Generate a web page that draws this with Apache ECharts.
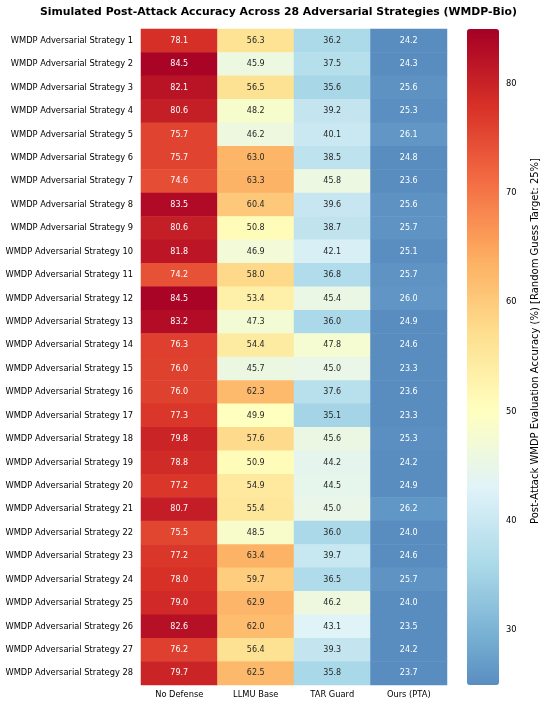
<!DOCTYPE html>
<html>
<head>
<meta charset="utf-8">
<script src="https://cdn.jsdelivr.net/npm/echarts@6/dist/echarts.min.js"></script>
<style>
    html, body { margin: 0; padding: 0; background: #fff; }
    #main { width: 550px; height: 707px; }
</style>
</head>
<body>
<div id="main"></div>
<script>
var defenses = ['No Defense', 'LLMU Base', 'TAR Guard', 'Ours (PTA)'];
var strategies = [
    'WMDP Adversarial Strategy 1', 'WMDP Adversarial Strategy 2', 'WMDP Adversarial Strategy 3',
    'WMDP Adversarial Strategy 4', 'WMDP Adversarial Strategy 5', 'WMDP Adversarial Strategy 6',
    'WMDP Adversarial Strategy 7', 'WMDP Adversarial Strategy 8', 'WMDP Adversarial Strategy 9',
    'WMDP Adversarial Strategy 10', 'WMDP Adversarial Strategy 11', 'WMDP Adversarial Strategy 12',
    'WMDP Adversarial Strategy 13', 'WMDP Adversarial Strategy 14', 'WMDP Adversarial Strategy 15',
    'WMDP Adversarial Strategy 16', 'WMDP Adversarial Strategy 17', 'WMDP Adversarial Strategy 18',
    'WMDP Adversarial Strategy 19', 'WMDP Adversarial Strategy 20', 'WMDP Adversarial Strategy 21',
    'WMDP Adversarial Strategy 22', 'WMDP Adversarial Strategy 23', 'WMDP Adversarial Strategy 24',
    'WMDP Adversarial Strategy 25', 'WMDP Adversarial Strategy 26', 'WMDP Adversarial Strategy 27',
    'WMDP Adversarial Strategy 28'
];
var noDefense = [78.1, 84.5, 82.1, 80.6, 75.7, 75.7, 74.6, 83.5, 80.6, 81.8, 74.2, 84.5, 83.2, 76.3,
    76.0, 76.0, 77.3, 79.8, 78.8, 77.2, 80.7, 75.5, 77.2, 78.0, 79.0, 82.6, 76.2, 79.7];
var llmuBase = [56.3, 45.9, 56.5, 48.2, 46.2, 63.0, 63.3, 60.4, 50.8, 46.9, 58.0, 53.4, 47.3, 54.4,
    45.7, 62.3, 49.9, 57.6, 50.9, 54.9, 55.4, 48.5, 63.4, 59.7, 62.9, 62.0, 56.4, 62.5];
var tarGuard = [36.2, 37.5, 35.6, 39.2, 40.1, 38.5, 45.8, 39.6, 38.7, 42.1, 36.8, 45.4, 36.0, 47.8,
    45.0, 37.6, 35.1, 45.6, 44.2, 44.5, 45.0, 36.0, 39.7, 36.5, 46.2, 43.1, 39.3, 35.8];
var oursPta = [24.2, 24.3, 25.6, 25.3, 26.1, 24.8, 23.6, 25.6, 25.7, 25.1, 25.7, 26.0, 24.9, 24.6,
    23.3, 23.6, 23.3, 25.3, 24.2, 24.9, 26.2, 24.0, 24.6, 25.7, 24.0, 23.5, 24.2, 23.7];
var colorbarTicks = [30, 40, 50, 60, 70, 80];

var columns = [noDefense, llmuBase, tarGuard, oursPta];
var vMin = 25, vMax = 85, vCenter = 50;

// RdYlBu_r, centred on 50 (lower part cut off like seaborn's center=)
var rdylbu = ['#313695', '#4575b4', '#74add1', '#abd9e9', '#e0f3f8', '#ffffbf',
    '#fee090', '#fdae61', '#f46d43', '#d73027', '#a50026'];

function hexToRgb(h) {
    return [parseInt(h.substr(1, 2), 16), parseInt(h.substr(3, 2), 16), parseInt(h.substr(5, 2), 16)];
}

function cmapRgb(v) {
    var half = Math.max(vMax - vCenter, vCenter - vMin);
    var c = Math.min(Math.max(v, vMin), vMax);
    var t = (c - (vCenter - half)) / (2 * half);
    var pos = t * (rdylbu.length - 1);
    var i = Math.min(Math.floor(pos), rdylbu.length - 2);
    var f = pos - i;
    var a = hexToRgb(rdylbu[i]), b = hexToRgb(rdylbu[i + 1]);
    return [0, 1, 2].map(function (k) { return Math.round(a[k] + (b[k] - a[k]) * f); });
}

function rgbStr(rgb) {
    return 'rgb(' + rgb.join(',') + ')';
}

function luminance(rgb) {
    var lin = rgb.map(function (c) {
        c = c / 255;
        return c <= 0.03928 ? c / 12.92 : Math.pow((c + 0.055) / 1.055, 2.4);
    });
    return 0.2126 * lin[0] + 0.7152 * lin[1] + 0.0722 * lin[2];
}

var barColors = [];
for (var s = 0; s <= 120; s++) {
    barColors.push(rgbStr(cmapRgb(vMin + (vMax - vMin) * s / 120)));
}

var cells = [];
columns.forEach(function (col, x) {
    col.forEach(function (v, y) {
        cells.push({
            value: [x, y, v],
            label: { color: luminance(cmapRgb(v)) < 0.408 ? '#ffffff' : '#262626' }
        });
    });
});

var font = 'DejaVu Sans';
var myChart = echarts.init(document.getElementById('main'));
var option = {
    animation: false,
    backgroundColor: '#ffffff',
    textStyle: { fontFamily: font },
    title: {
        text: 'Simulated Post-Attack Accuracy Across 28 Adversarial Strategies (WMDP-Bio)',
        left: 40,
        top: 7,
        padding: 0,
        textStyle: { fontFamily: font, fontSize: 10.85, fontWeight: 'bold', color: '#000' }
    },
    grid: [
        { left: 141, top: 29, width: 306, height: 656 },
        { left: 467, top: 29, width: 32, height: 656 }
    ],
    xAxis: [{
        type: 'category',
        data: defenses,
        gridIndex: 0,
        position: 'bottom',
        axisLine: { show: false },
        axisTick: { alignWithLabel: true, length: 4, lineStyle: { color: '#222' } },
        axisLabel: { color: '#000', fontSize: 8.3, margin: 6, fontFamily: font },
        splitLine: { show: false }
    }, {
        type: 'value',
        gridIndex: 1,
        show: false
    }],
    yAxis: [{
        type: 'category',
        data: strategies,
        gridIndex: 0,
        inverse: true,
        axisLine: { show: false },
        axisTick: { alignWithLabel: true, length: 4, lineStyle: { color: '#222' } },
        axisLabel: { color: '#000', fontSize: 8.3, margin: 8, fontFamily: font },
        splitLine: { show: false }
    }, {
        type: 'value',
        gridIndex: 1,
        min: vMin,
        max: vMax,
        position: 'right',
        axisLine: { show: false },
        axisTick: { show: true, length: 3.5, customValues: colorbarTicks, lineStyle: { color: '#222' } },
        axisLabel: { color: '#000', fontSize: 8.3, margin: 7, customValues: colorbarTicks, fontFamily: font },
        splitLine: { show: false },
        name: 'Post-Attack WMDP Evaluation Accuracy (%) [Random Guess Target: 25%]',
        nameLocation: 'middle',
        nameGap: 31,
        nameTextStyle: { color: '#000', fontSize: 10, fontFamily: font, padding: [0, 0, 0, 32] }
    }],
    visualMap: {
        type: 'continuous',
        min: vMin,
        max: vMax,
        seriesIndex: 0,
        dimension: 2,
        calculable: false,
        left: 467,
        top: 29,
        itemWidth: 32,
        itemHeight: 656,
        padding: 0,
        text: null,
        inRange: { color: barColors }
    },
    series: [{
        type: 'heatmap',
        xAxisIndex: 0,
        yAxisIndex: 0,
        data: cells,
        itemStyle: { borderWidth: 0 },
        label: {
            show: true,
            fontSize: 8,
            fontFamily: font,
            formatter: function (p) { return p.value[2].toFixed(1); }
        },
        emphasis: { disabled: true }
    }]
};
myChart.setOption(option);
</script>
</body>
</html>
